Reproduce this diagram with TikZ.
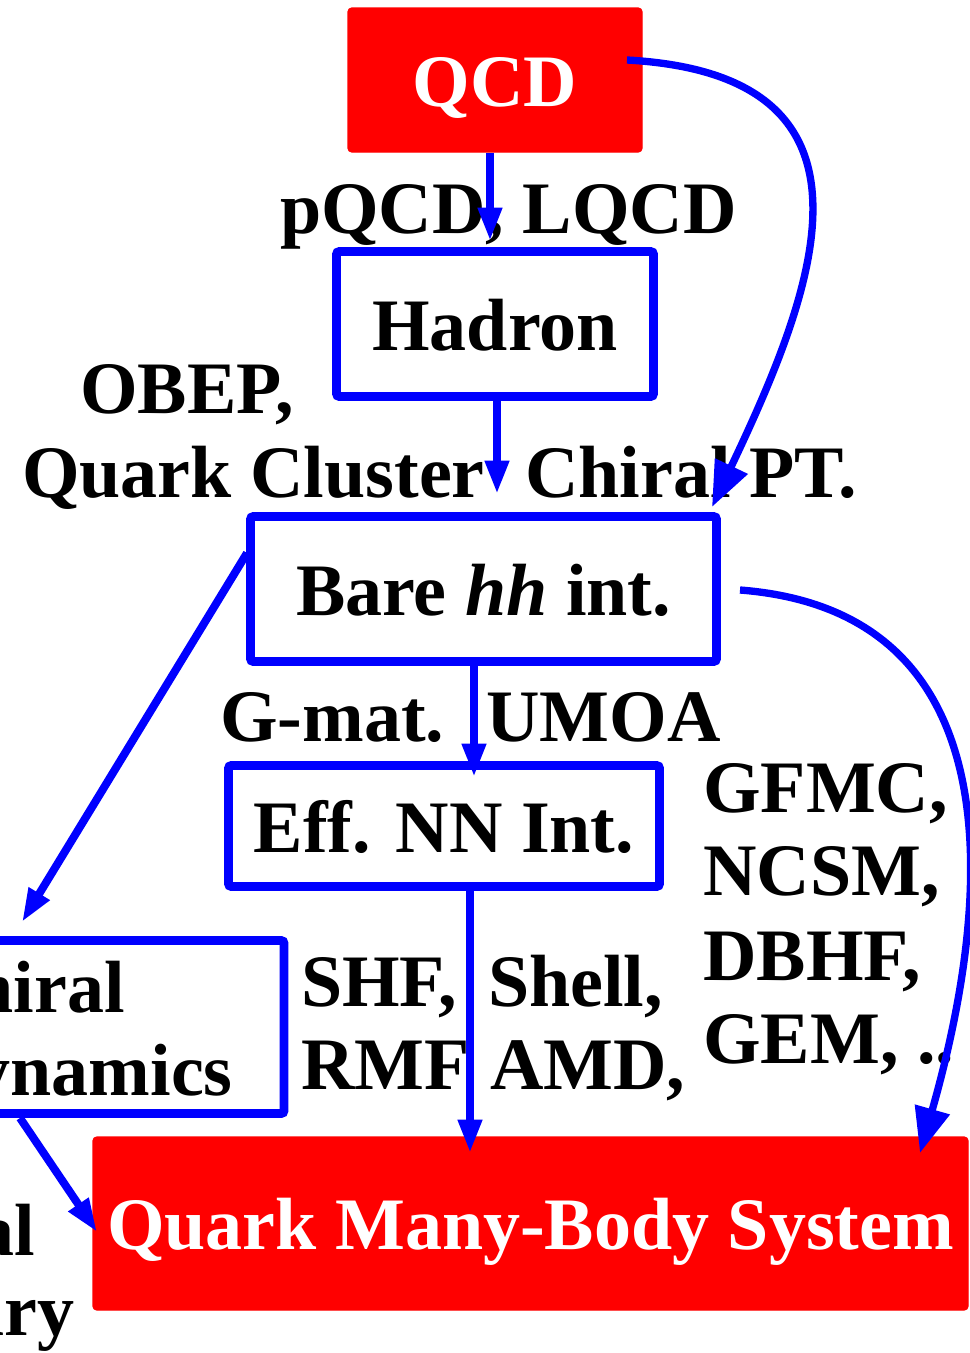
\documentclass[tikz,border=0pt]{standalone}
\usepackage{fontspec}
\setmainfont{Liberation Serif}
\usetikzlibrary{arrows.meta}
\definecolor{qred}{RGB}{255,0,0}
\definecolor{qblue}{RGB}{0,0,255}
\begin{document}
\begin{tikzpicture}[x=0.75pt,y=-0.75pt,
  every node/.style={font=\fontsize{55.5}{62}\selectfont\bfseries},
  redbox/.style={fill=qred,draw=qred,line width=1pt,rounded corners=3pt,text=white,inner sep=0pt,text height=39pt,text depth=0pt},
  bluebox/.style={draw=qblue,line width=6.5pt,rounded corners=2pt,inner sep=0pt,text height=39pt,text depth=0pt},
  lbl/.style={anchor=base west,inner sep=0pt},
  conn/.style={draw=qblue,line width=6pt,-{Triangle[length=25pt,width=17pt]}},
  bigconn/.style={draw=qblue,line width=5.5pt,-{Triangle[length=34pt,width=26pt]}}]
\useasboundingbox (0,0) rectangle (970,1353);
\clip (0,0) rectangle (970,1353);
% boxes
\node[redbox,minimum width=294*0.75pt,minimum height=144*0.75pt] (qcd) at (495,80) {QCD};
\node[bluebox,minimum width=317*0.75pt,minimum height=145*0.75pt] (hadron) at (495,324) {Hadron};
\node[bluebox,minimum width=466*0.75pt,minimum height=145*0.75pt] (bare) at (483.5,589) {Bare \textit{hh} int.};
\node[bluebox,minimum width=431*0.75pt,minimum height=121*0.75pt] (eff) at (444,826) {Eff. NN Int.};
\node[bluebox,minimum width=486*0.75pt,minimum height=173*0.75pt] (chiral) at (41,1027) {};
\node[redbox,minimum width=875*0.75pt,minimum height=173*0.75pt] (quark) at (530.5,1223.5) {Quark Many-Body System};
% chiral box text (cut at left)
\node[anchor=base east,inner sep=0pt] (chiraltxt) at (125,1012) {Chiral};
\node[anchor=base east,inner sep=0pt] (dyntxt) at (233,1095) {Dynamics};
\node[anchor=base east,inner sep=0pt] (altxt) at (35,1255) {al};
\node[anchor=base east,inner sep=0pt] (arytxt) at (75,1335) {ary};
% labels
\node[lbl] (l1) at (280,233) {pQCD, LQCD};
\node[lbl] (l2) at (80,413) {OBEP,};
\node[lbl] (l3) at (22,497) {Quark Cluster};
\node[lbl] (l4) at (525,497) {Chiral PT.};
\node[lbl] (l5) at (220,741) {G-mat.};
\node[lbl] (l6) at (486,741) {UMOA};
\node[lbl] (l7) at (703,812) {GFMC,};
\node[lbl] (l8) at (703,895) {NCSM,};
\node[lbl] (l9) at (703,980) {DBHF,};
\node[lbl] (l10) at (703,1063) {GEM, ..};
\node[lbl] (l11) at (301,1006) {SHF,};
\node[lbl] (l12) at (301,1089) {RMF};
\node[lbl] (l13) at (488,1006) {Shell,};
\node[lbl] (l14) at (490,1089) {AMD,};
% connectors
\coordinate (qcdR) at (627,60);
\coordinate (bareTR) at (712,507);
\coordinate (bareR) at (740,590);
\coordinate (quarkTR) at (920,1153);
\coordinate (chiralT) at (22,922);
\coordinate (quarkL) at (97,1232);
\coordinate (chiralB) at (20,1118);
\coordinate (bareL) at (247,553);
\path[conn] (490,0 |- qcd.south) -- (490,241);
\path[conn] (497,0 |- hadron.south) -- (497,494);
\path[conn] (474,0 |- bare.south) -- (474,777);
\path[conn] (470,0 |- eff.south) -- (470,1153);
\path[conn] (bareL) -- (chiralT);
\path[conn] (chiralB) -- (quarkL);
\path[bigconn] (qcdR) .. controls (900,75) and (815,290) .. (bareTR);
\path[bigconn] (bareR) .. controls (1000,610) and (1001,868) .. (quarkTR);
\end{tikzpicture}
\end{document}
